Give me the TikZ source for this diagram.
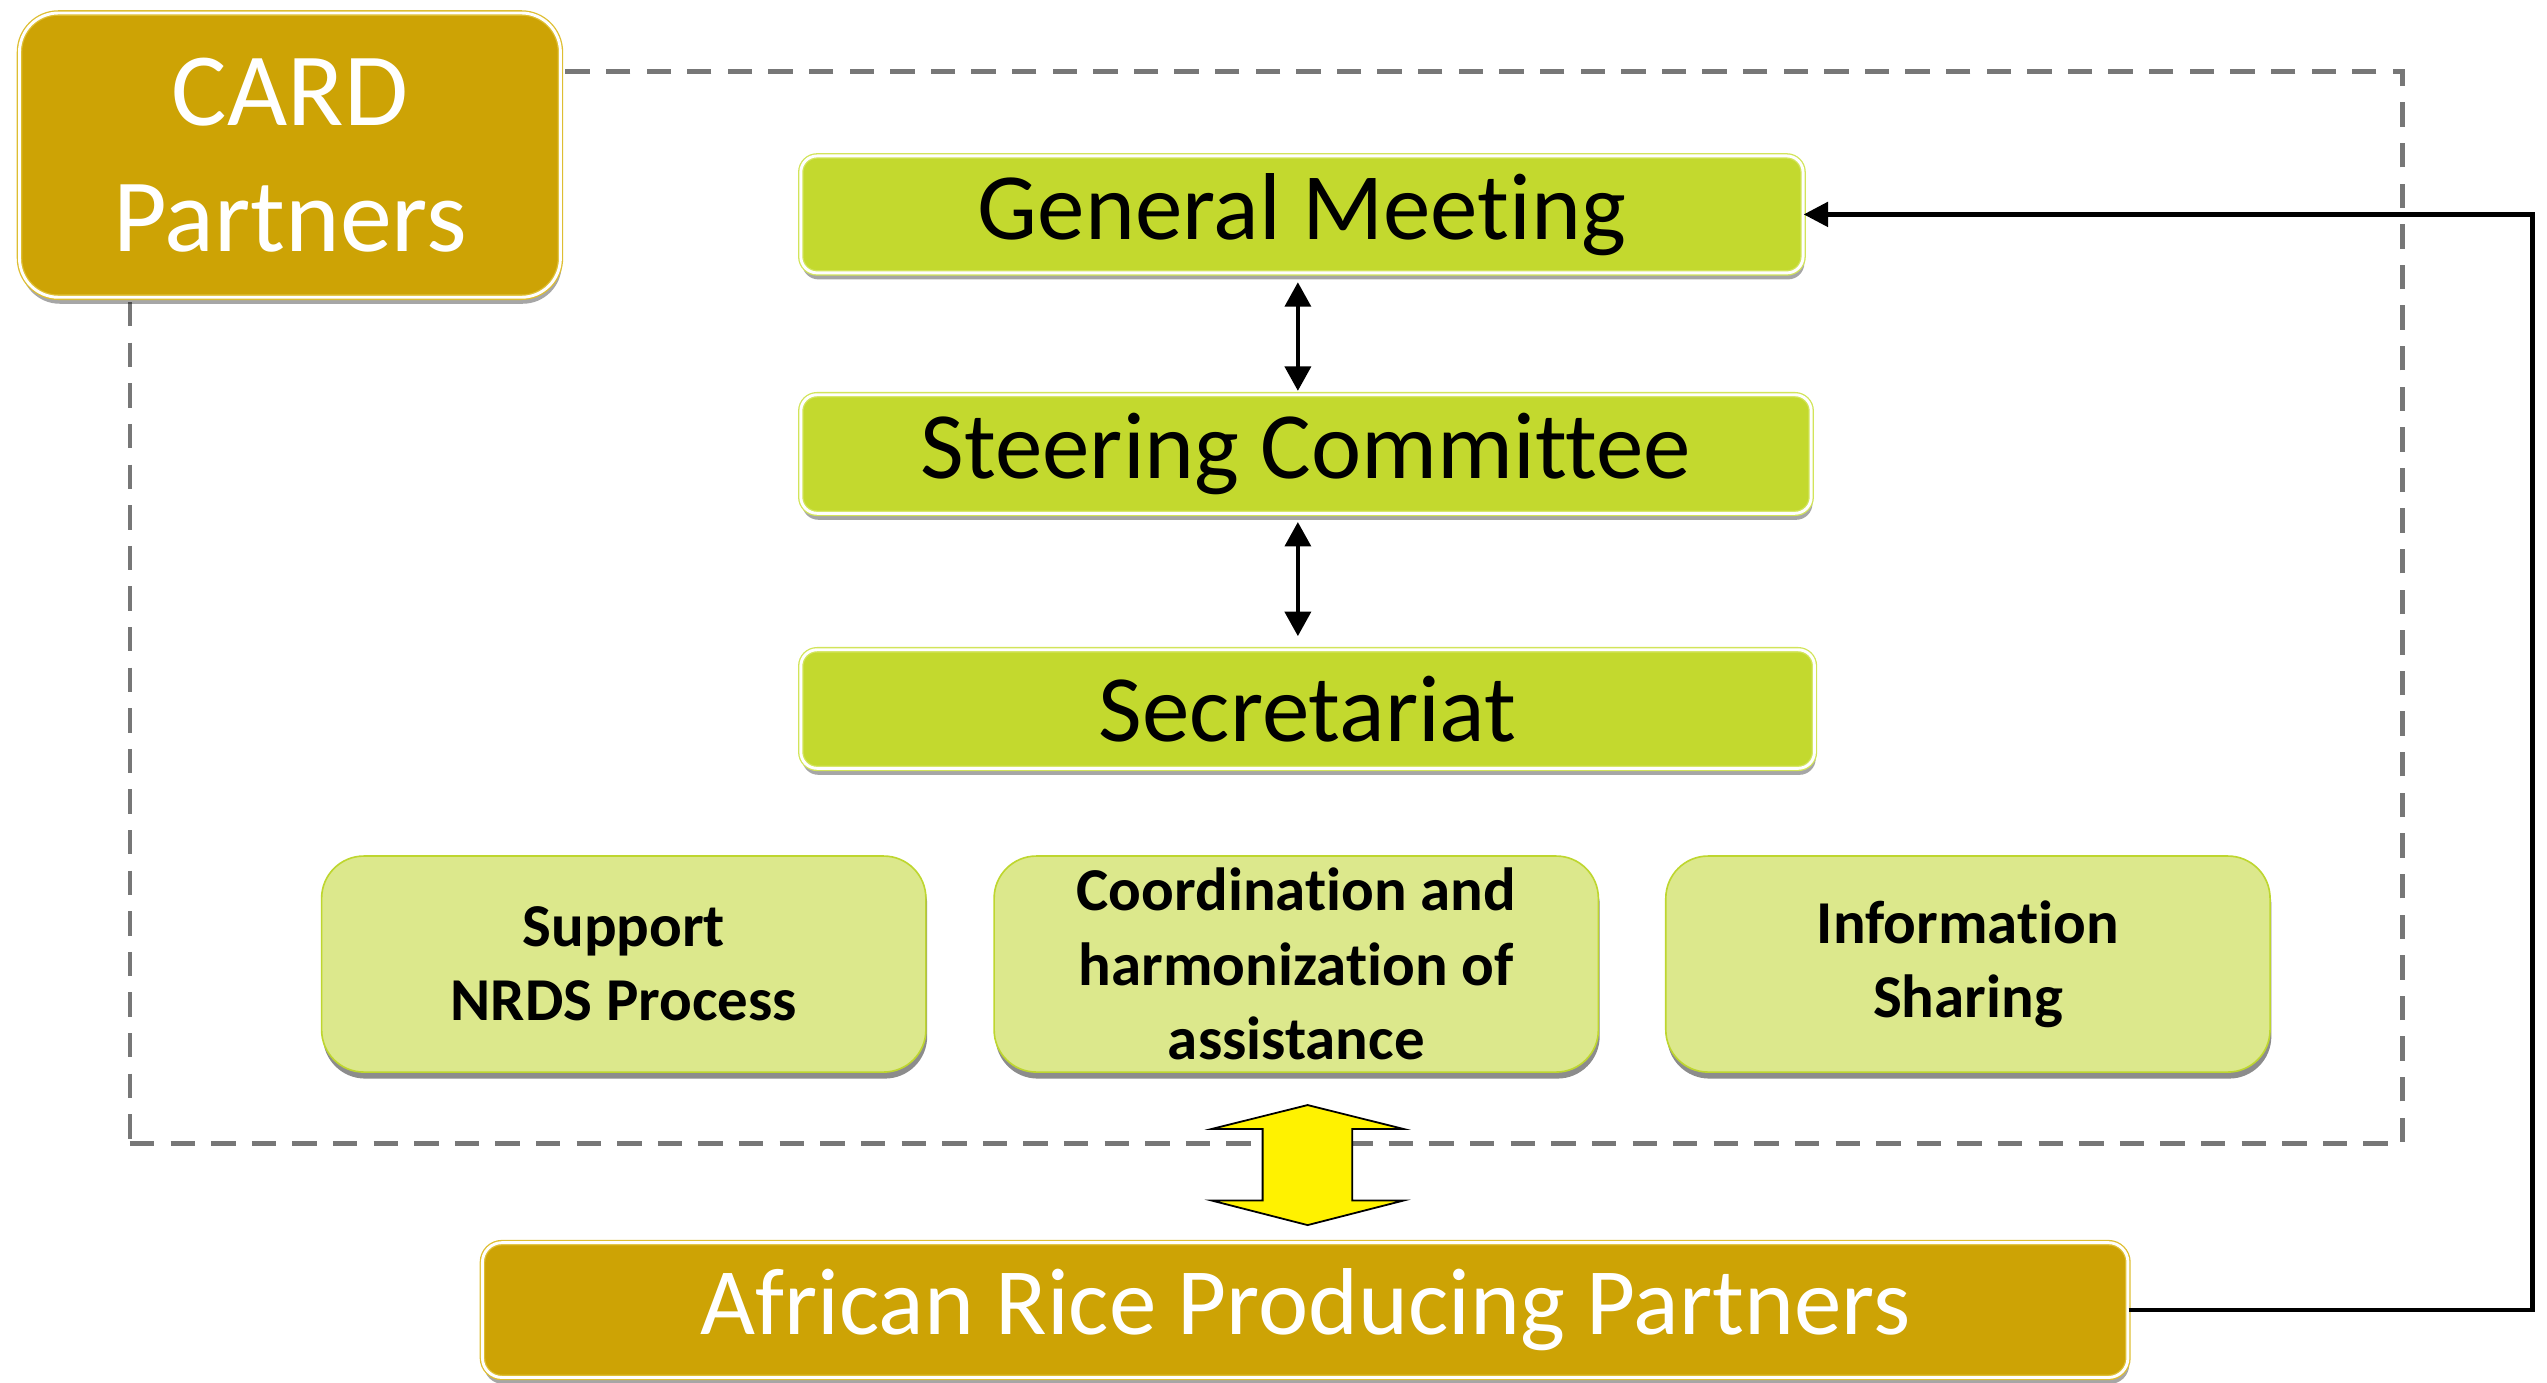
\documentclass[tikz,border=0pt]{standalone}
\usepackage{fontspec}
\setmainfont{Carlito}[RawFeature={-liga;-clig;-calt;-dlig}]
\usetikzlibrary{shadows,arrows.meta}
\definecolor{goldc}{RGB}{205,163,5}
\definecolor{goldl}{RGB}{222,190,50}
\definecolor{limec}{RGB}{195,217,46}
\definecolor{limel}{RGB}{210,228,90}
\definecolor{paleg}{RGB}{220,232,140}
\definecolor{paleb}{RGB}{190,214,47}
\definecolor{dashg}{RGB}{119,119,119}
\begin{document}
\begin{tikzpicture}[x=1pt,y=-1pt,
  frame/.style={draw=dashg, line width=3pt, dash pattern=on 15pt off 10pt, inner sep=0pt},
  solidbox/.style={rectangle, inner sep=0pt, align=center, double=white, double distance=1.8pt, line width=0.8pt,
     drop shadow={shadow xshift=0.8pt, shadow yshift=-4pt, fill=black, opacity=0.35}},
  goldbox/.style={solidbox, fill=goldc, draw=goldl, text=white},
  limebox/.style={solidbox, fill=limec, draw=limel, text=black, rounded corners=10pt},
  palebox/.style={rectangle, inner sep=0pt, align=center, fill=paleg, draw=paleb, line width=1pt,
     rounded corners=26pt, minimum width=372pt, minimum height=133pt,
     font=\bfseries\fontsize{37.5}{45.7}\selectfont,
     drop shadow={shadow xshift=0.8pt, shadow yshift=-4pt, fill=black, opacity=0.45}},
  bigtext/.style={font=\fontsize{58.5}{70}\selectfont},
  conn/.style={draw=black, line width=2.6pt, -{Triangle[length=15pt,width=15pt]}},
  biarrow/.style={draw=black, line width=2.2pt, {Triangle[length=15pt,width=16pt]}-{Triangle[length=15pt,width=16pt]}},
  bigarrow/.style={fill=yellow, draw=black, line width=1.1pt, line join=miter}
]
\useasboundingbox (0,0) rectangle (1568,851);

% dashed frame
\node[frame, minimum width=1399pt, minimum height=660pt] (frame) at (779.5,374) {};

% CARD partners
\node[goldbox, rounded corners=24pt, minimum width=333pt, minimum height=175pt,
      font=\fontsize{64}{77}\selectfont] (card) at (178.5,95.5) {CARD\\Partners};

% hierarchy
\node[limebox, bigtext, minimum width=617pt, minimum height=72pt] (gm) at (801.5,132) {General Meeting};
\node[limebox, bigtext, minimum width=622pt, minimum height=73pt] (sc) at (804,279.5) {Steering Committee};
\node[limebox, bigtext, minimum width=624pt, minimum height=73pt] (sec) at (805,436.5) {Secretariat};

% functions
\node[palebox] (nrds) at (384,593.5) {Support\\NRDS Process};
\node[palebox] (coord) at (798,593.5) {Coordination and\\harmonization of\\assistance};
\node[palebox] (info) at (1211.5,593.5) {Information\\Sharing};

% African partners
\node[goldbox, bigtext, rounded corners=12pt, minimum width=1013pt, minimum height=83pt] (arp) at (803.5,806.5) {African Rice Producing Partners};

% yellow double arrow
\draw[bigarrow] (805,680.3) -- (864,695) -- (832.5,695) -- (832.5,739.1) -- (864,739.1) -- (805,754.2)
   -- (746,739.1) -- (777.3,739.1) -- (777.3,695) -- (746,695) -- cycle;

% vertical arrows
\draw[biarrow] ([xshift=-2.5pt,yshift=-5.4pt]gm.south) -- ([xshift=-5pt,yshift=2pt]sc.north);
\draw[biarrow] ([xshift=-5pt,yshift=-5pt]sc.south) -- ([xshift=-6pt,yshift=8pt]sec.north);

% feedback connector
\coordinate (rt) at (1559,0);
\draw[conn] (arp.east) -- (arp.east -| rt) -- (gm.east -| rt) -- (gm.east);
\end{tikzpicture}
\end{document}
